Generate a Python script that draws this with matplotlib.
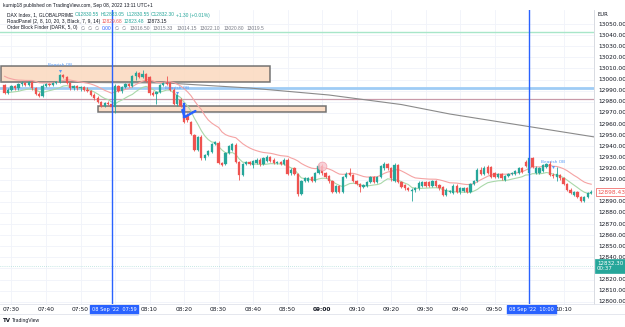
import matplotlib
matplotlib.use('Agg')
import matplotlib.pyplot as plt
from matplotlib.patches import Rectangle
import matplotlib.transforms as mtransforms

plt.rcParams['font.family'] = ['DejaVu Sans']

# ---------------- data (1-minute candles from 07:28) ----------------
opens = [12995,12988,12991,12994,12992,12996,12997,12995,12998,12992,12987,12985,12994,12996,12995,12997,12998,13004,13002,12997,
         12992,12994,12992,12993,12991,12990,12986,12983,12980,12976,12979,12978,12975,12994,12990,12993,12996,12994,13003,13006,
         13002,13005,13002,12988,12987,12989,12995,12997,12997,12991,12978,12982,12976,12968,12962,12950,12937,12948,12929,12932,
         12935,12942,12943,12925,12924,12934,12937,12941,12926,12914,12924,12926,12923,12925,12928,12924,12927,12930,12928,12925,
         12926,12924,12928,12916,12920,12915,12897,12909,12909,12912,12909,12916,12922,12916,12913,12909,12899,12904,12899,12912,
         12916,12914,12909,12906,12903,12904,12908,12912,12908,12912,12920,12924,12920,12909,12923,12908,12905,12902,12900,12901,
         12902,12904,12908,12908,12904,12909,12905,12903,12896,12899,12898,12904,12899,12900,12902,12899,12906,12909,12919,12915,
         12921,12921,12916,12912,12915,12910,12913,12915,12915,12916,12920,12926,12916,12929,12916,12916,12918,12921,12924,12914,
         12912,12914,12911,12906,12901,12896,12899,12894,12891,12894,12898]
highs = [12996,12992,12995,12995,12997,12999,12998,12999,12999,12993,12989,12996,12997,12997,12998,12999,13005,13005,13003,12998,
         12995,12995,12994,12994,12993,12991,12988,12985,12981,12980,12981,12979,12996,12995,12994,12997,12997,13004,13008,13007,
         13009,13006,13003,12990,12990,12996,12998,13003,12998,12992,12987,12983,12977,12970,12963,12951,12949,12950,12933,12937,
         12943,12945,12945,12926,12935,12941,12943,12943,12927,12925,12927,12927,12928,12929,12929,12930,12932,12931,12929,12927,
         12927,12929,12929,12920,12921,12916,12910,12912,12912,12913,12917,12924,12924,12917,12914,12910,12905,12905,12913,12917,
         12920,12915,12910,12907,12906,12909,12913,12913,12913,12923,12926,12925,12921,12925,12924,12909,12906,12903,12902,12903,
         12909,12909,12909,12909,12910,12910,12906,12904,12902,12901,12906,12906,12903,12903,12903,12907,12910,12920,12921,12922,
         12923,12922,12917,12916,12916,12914,12916,12917,12919,12921,12921,12928,12930,12930,12922,12921,12924,12925,12927,12916,
         12921,12915,12912,12907,12902,12900,12900,12895,12895,12899,12901]
lows = [12987,12987,12990,12991,12991,12994,12994,12994,12991,12986,12984,12984,12993,12994,12994,12996,12997,13001,12996,12991,
        12991,12991,12990,12990,12989,12985,12982,12979,12975,12975,12977,12971,12970,12989,12988,12992,12993,12993,13000,13001,
        13001,12998,12986,12985,12978,12988,12994,12995,12990,12977,12976,12975,12961,12962,12950,12936,12936,12928,12928,12931,
        12934,12941,12924,12922,12923,12933,12936,12925,12910,12913,12923,12923,12920,12924,12922,12923,12926,12926,12924,12924,
        12923,12923,12914,12914,12914,12895,12896,12908,12908,12908,12908,12915,12914,12911,12907,12898,12898,12898,12898,12911,
        12913,12908,12905,12899,12902,12903,12907,12907,12907,12911,12919,12919,12909,12908,12907,12902,12901,12900,12891,12899,
        12901,12903,12903,12903,12903,12903,12901,12895,12895,12898,12897,12898,12897,12899,12898,12898,12905,12908,12914,12914,
        12915,12911,12911,12911,12910,12909,12912,12914,12914,12915,12916,12921,12915,12920,12915,12915,12917,12920,12913,12911,
        12909,12910,12905,12900,12897,12895,12893,12890,12890,12893,12897]
closes = [12988,12991,12994,12992,12996,12997,12995,12998,12992,12987,12985,12994,12996,12995,12997,12998,13004,13002,12997,12992,
          12994,12992,12993,12991,12990,12986,12983,12980,12976,12979,12978,12975,12994,12990,12993,12996,12994,13003,13006,13002,
          13005,12999,12988,12986,12989,12995,12997,12996,12991,12978,12986,12976,12962,12964,12951,12937,12948,12929,12932,12936,
          12942,12944,12925,12923,12934,12940,12942,12926,12914,12924,12926,12924,12927,12928,12924,12929,12930,12927,12925,12926,
          12924,12928,12915,12919,12915,12897,12909,12911,12911,12909,12916,12922,12916,12912,12909,12899,12904,12899,12912,12915,
          12914,12909,12906,12903,12905,12908,12912,12908,12912,12922,12924,12920,12911,12923,12908,12903,12902,12901,12901,12902,
          12907,12908,12904,12904,12909,12904,12902,12896,12901,12900,12904,12899,12902,12902,12899,12906,12909,12919,12915,12920,
          12916,12912,12912,12915,12911,12913,12915,12916,12918,12920,12917,12922,12929,12921,12920,12920,12923,12924,12914,12913,
          12915,12911,12906,12901,12898,12899,12894,12891,12894,12898,12899]

start_minute = 7 * 60 + 28          # first candle 07:28
tick_labels = ['07:30', '07:40', '07:50', '08:10', '08:20', '08:30', '08:40', '08:50', '09:00',
               '09:10', '09:20', '09:30', '09:40', '09:50', '10:10']
grid_times = ['07:30', '07:40', '07:50', '08:00', '08:10', '08:20', '08:30', '08:40', '08:50', '09:00',
              '09:10', '09:20', '09:30', '09:40', '09:50', '10:00', '10:10']
price_ticks = list(range(12800, 13060, 10))

# drawings / levels
vline_times = ['07:59', '10:00']
vline_labels = ["08 Sep '22  07:59", "08 Sep '22  10:00"]
top_box_times = ['07:27', '08:45']
top_box_prices = [12997.5, 13012.4]
low_box_times = ['07:55', '09:01']
low_box_prices = [12970.8, 12976.4]
hline_green = 13042.5
hline_blue = 12992.0
hline_mauve = 12982.4
last_price = 12832.30
axis_label_price = 12898.43
slow_line_times = ['07:27', '08:15', '08:39', '09:02', '09:23', '09:37', '10:19']
slow_line_values = [12997.8, 12996.9, 12992.4, 12986.1, 12977.5, 12969.0, 12948.3]
ob_times = ['07:44', '08:18', '10:07']
ob_prices = [13007.7, 12987.8, 12921.0]
red_seed, green_seed = 13004.0, 12989.0


def t2i(s):
    h, m = s.split(':')
    return int(h) * 60 + int(m) - start_minute


def ema(vals, span, seed):
    a = 2.0 / (span + 1)
    v = seed
    out = []
    for x in vals:
        v = v + a * (x - v)
        out.append(v)
    return out

W, H = 625, 327
fig = plt.figure(figsize=(W / 100, H / 100), dpi=100)
L, R, T, B = 0, 594, 10, 304
ax = fig.add_axes([L / W, 1 - B / H, (R - L) / W, (B - T) / H])
n = len(closes)
idx = list(range(n))
ax.set_xlim(-1.33, 170.8)
ax.set_ylim(12798.0, 13062.6)

# grid
for p in price_ticks:
    ax.axhline(p, color='#f0f3fa', lw=0.6, zorder=0)
for g in grid_times:
    ax.axvline(t2i(g), color='#f0f3fa', lw=0.6, zorder=0)

# boxes
for bt, bp in ((top_box_times, top_box_prices), (low_box_times, low_box_prices)):
    ax.add_patch(Rectangle((t2i(bt[0]), bp[0]), t2i(bt[1]) - t2i(bt[0]), bp[1] - bp[0],
                           facecolor='#fbd9bf', edgecolor='#5d5d5d', lw=1.1, alpha=0.85, zorder=1))

# horizontal levels
ax.axhline(hline_green, color='#a8e6c9', lw=1.0, zorder=1)
ax.axhline(hline_blue, color='#9fccf5', lw=2.0, zorder=1)
ax.axhline(hline_mauve, color='#c99aaa', lw=0.9, zorder=1)
ax.axhline(last_price, color='#26a69a', lw=0.5, ls=(0, (1, 2)), alpha=0.5, zorder=1)

# slow gray line
ax.plot([t2i(t) for t in slow_line_times], slow_line_values, color='#8a8a8a', lw=0.8, zorder=2)

# moving averages
red_line = ema(highs, 14, red_seed)
green_line = ema(lows, 10, green_seed)
ax.plot(idx, red_line, color='#f5a3a3', lw=0.8, zorder=2)
ax.plot(idx, green_line, color='#a9d8a9', lw=0.8, zorder=2)

# candles
up, dn = '#26a69a', '#ef5350'
for i in idx:
    o, h, l, c = opens[i], highs[i], lows[i], closes[i]
    col = up if c >= o else dn
    ax.vlines(i, l, h, color=col, lw=0.6, zorder=3)
    lo, hi = min(o, c), max(o, c)
    ax.add_patch(Rectangle((i - 0.33, lo), 0.66, max(hi - lo, 0.4), facecolor=col, edgecolor=col, lw=0.2, zorder=4))

# vertical date lines
for t in vline_times:
    ax.axvline(t2i(t), color='#2962ff', lw=1.0, zorder=5)

# order-block markers
for t, p in zip(ob_times, ob_prices):
    ax.plot(t2i(t), p, marker='v', ms=2.2, color='#5b9cf6', zorder=6, mec='none')
    ax.text(t2i(t), p + 3.2, 'Bearish OB', color='#5b9cf6', fontsize=3.2, ha='center', va='bottom', zorder=6)

# blue arrow drawing
ax.plot([t2i('08:20') - 0.5, t2i('08:20') + 0.2, t2i('08:23') + 0.3], [12972.6, 12966.3, 12971.7],
        color='#2962ff', lw=1.7, zorder=6, solid_capstyle='round')
ax.plot([t2i('08:20') - 0.1, t2i('08:20') - 0.1], [12978.0, 12966.3], color='#2962ff', lw=1.7, zorder=6)

# highlight circle
ax.scatter([t2i('09:00')], [12922.5], s=40, facecolor='#f8c6cf', edgecolor='#f19aa7', lw=0.6, alpha=0.8, zorder=6)

# axes styling
for s in ['top', 'left', 'bottom']:
    ax.spines[s].set_visible(False)
ax.spines['right'].set_color('#d1d4dc')
ax.spines['right'].set_linewidth(0.6)
ax.set_xticks([])
ax.set_yticks([])

# price scale labels
trans = mtransforms.blended_transform_factory(ax.transAxes, ax.transData)
for p in price_ticks:
    if p in (12900, 12830):
        continue
    ax.text(1.0 + 4 / 594, p, f'{p:.2f}', transform=trans, fontsize=4.2, color='#131722', va='center', ha='left',
            clip_on=False)
fig.text(598 / W, 1 - 14 / H, 'EUR', fontsize=3.8, color='#131722', va='center', ha='left')
ax.text(1.0 + 3 / 594, axis_label_price, f'{axis_label_price:.2f}', transform=trans, fontsize=4.2, color='#ef5350',
        va='center', ha='left', clip_on=False, bbox=dict(boxstyle='square,pad=0.25', fc='white', ec='#ef5350', lw=0.5))
ax.text(1.0 + 3 / 594, last_price, f'{last_price:.2f}\n00:37', transform=trans, fontsize=4.0, color='white',
        va='center', ha='left', clip_on=False, linespacing=1.1,
        bbox=dict(boxstyle='square,pad=0.3', fc='#26a69a', ec='#26a69a', lw=0.5))

# time axis
fig.add_artist(plt.Line2D([0, 1], [1 - B / H, 1 - B / H], color='#e0e3eb', lw=0.6))
fig.add_artist(plt.Line2D([0, 1], [1 - 314 / H, 1 - 314 / H], color='#e0e3eb', lw=0.6))
xtrans = mtransforms.blended_transform_factory(ax.transData, fig.transFigure)
for lab in tick_labels:
    ax.text(t2i(lab), 1 - 309.3 / H, lab, transform=xtrans, fontsize=4.2, color='#131722', ha='center', va='center',
            fontweight='bold' if lab == '09:00' else 'normal', clip_on=False)
for t, lab in zip(vline_times, vline_labels):
    ax.text(t2i(t) + 0.7, 1 - 309.3 / H, lab, transform=xtrans, fontsize=3.6, color='white', ha='center',
            va='center', clip_on=False, bbox=dict(boxstyle='square,pad=0.35', fc='#2962ff', ec='#2962ff'))

# header / legends
hfont = ['Liberation Sans', 'DejaVu Sans']
fig.text(3 / W, 1 - 5 / H, 'kurnip18 published on TradingView.com, Sep 08, 2022 13:11 UTC+1', fontsize=3.5,
         family=hfont, color='#131722', va='center', ha='left')

renderer = fig.canvas.get_renderer()


def seq(x_px, y_px, parts, size=3.5, gap=1.6):
    x = x_px / W
    for txt, col in parts:
        t = fig.text(x, 1 - y_px / H, txt, fontsize=size, color=col, va='center', ha='left', family=hfont)
        bb = t.get_window_extent(renderer=renderer)
        x += (bb.width + gap) / W

teal, red, green, gray, dark = '#26a69a', '#ef5350', '#26a69a', '#787b86', '#131722'
seq(7, 15, [('DAX Index, 1, GLOBALPRIME', dark), ('O12830.55', teal), ('H12833.05', teal), ('L12830.55', teal),
            ('C12832.30', teal), ('+1.30 (+0.01%)', teal)])
seq(7, 21.5, [('RoadPanel (2, 8, 10, 20, 3, Black, 7, 9, 14)', dark), ('12829.68', red), ('12823.48', green),
              ('12873.15', dark)])
seq(7, 28, [('Order Block Finder (DARK, 5, 0)', dark), ('\u2205', gray), ('\u2205', gray), ('\u2205', gray),
            ('0.00', '#2962ff'), ('\u2205', gray), ('\u2205', gray), ('13016.50', gray), ('13015.33', gray),
            ('13014.15', gray), ('13022.10', gray), ('13020.80', gray), ('13019.5', gray)], gap=3.0)

# TradingView logo text
fig.text(3 / W, 1 - 320.5 / H, 'TV', fontsize=4.0, fontweight='bold', color='#131722', va='center', ha='left')
fig.text(12 / W, 1 - 320.5 / H, 'TradingView', fontsize=3.6, color='#131722', va='center', ha='left', family=hfont)

fig.savefig('out.png', dpi=100)
